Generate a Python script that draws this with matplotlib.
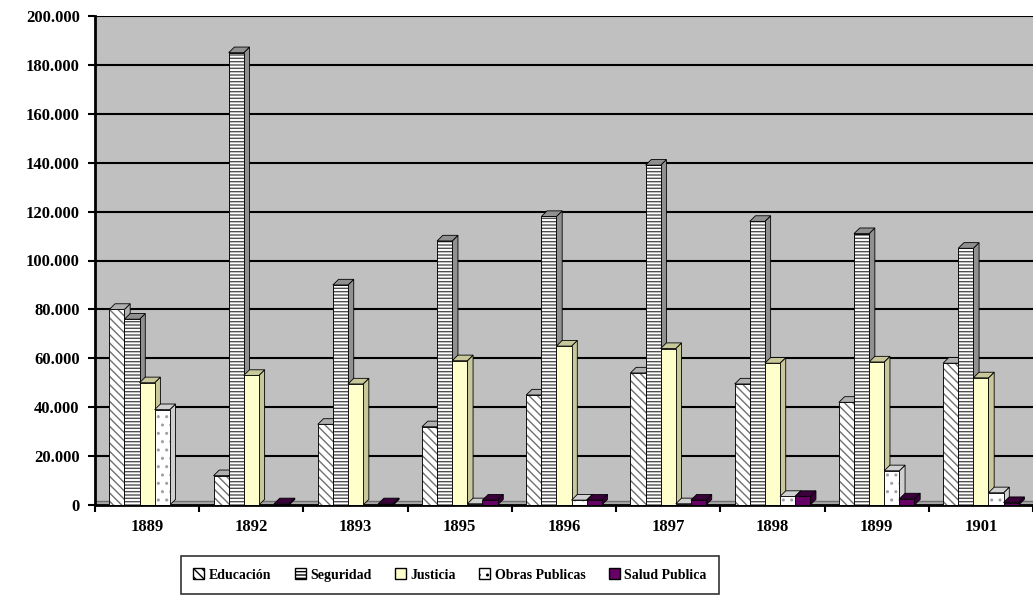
import matplotlib
matplotlib.use("Agg")
import matplotlib.pyplot as plt
from matplotlib.patches import Polygon, Patch
from matplotlib.ticker import FuncFormatter, FixedLocator
import numpy as np

years = ["1889", "1892", "1893", "1895", "1896", "1897", "1898", "1899", "1901"]
series_names = ["Educación", "Seguridad", "Justicia", "Obras Publicas", "Salud Publica"]
educacion = [80000, 12000, 33000, 32000, 45000, 54000, 49500, 42000, 58000]
seguridad = [76000, 185000, 90000, 108000, 118000, 139000, 116000, 111000, 105000]
justicia = [50000, 53000, 49500, 59000, 65000, 64000, 58000, 58500, 52000]
obras = [39000, 0, 0, 500, 2000, 500, 3500, 14000, 5000]
salud = [0, 500, 500, 2000, 2000, 2000, 3500, 2500, 1000]

series = [educacion, seguridad, justicia, obras, salud]
faces = ["white", "white", "#FFFFCC", "white", "#660066"]
hatches = ["\\\\\\\\", "-----", None, "..", None]
hatchcolors = ["#707070", "#505050", None, "#A0A0A0", None]
sides = ["#B0B0B0", "#909090", "#C8C89A", "#D0D0D0", "#3A003A"]

plt.rcParams["font.family"] = ["Liberation Serif", "DejaVu Serif"]
plt.rcParams["hatch.linewidth"] = 1.0

fig = plt.figure(figsize=(10.33, 6.12), dpi=100)
ax = fig.add_axes([95 / 1033, 1 - 505 / 612, (1033 - 95) / 1033, (505 - 16) / 612])
ax.set_facecolor("#C0C0C0")
ax.set_xlim(-0.5, len(years) - 0.5)
ax.set_ylim(0, 200000)

w = 0.145
dx = 0.055
dy = 2300
# floor strip of the 3D chart
ax.axhspan(0, dy * 0.8, color="#A8A8A8", zorder=2, linewidth=0)
ax.axhline(dy * 0.8, color="#707070", linewidth=1.0, zorder=2)

x = np.arange(len(years))
for k, (vals, fc, h, hc, sc) in enumerate(zip(series, faces, hatches, hatchcolors, sides)):
    pos = x - 2.5 * w + w * k + w / 2
    for xi, v in zip(pos, vals):
        if v <= 0:
            continue
        left, right = xi - w / 2, xi + w / 2
        ax.add_patch(Polygon([[right, 0], [right + dx, dy], [right + dx, v + dy], [right, v]],
                             closed=True, facecolor=sc, edgecolor="black", linewidth=0.6, zorder=3 + k))
        ax.add_patch(Polygon([[left, v], [left + dx, v + dy], [right + dx, v + dy], [right, v]],
                             closed=True, facecolor=sc, edgecolor="black", linewidth=0.6, zorder=3 + k))
    bars = ax.bar(pos, vals, width=w, color=fc, edgecolor="black", linewidth=0.6, zorder=3 + k)
    if h:
        for b in bars:
            b.set_hatch(h)
            b.set_edgecolor(hc)
        ax.bar(pos, vals, width=w, color="none", edgecolor="black", linewidth=0.6, zorder=3.5 + k)

ax.yaxis.set_major_locator(FixedLocator(np.arange(0, 200001, 20000)))
ax.yaxis.set_major_formatter(FuncFormatter(lambda v, p: f"{int(v):,}".replace(",", ".")))
ax.grid(axis="y", color="black", linewidth=1.5, zorder=1)
ax.set_axisbelow(True)
ax.set_xticks(x)
ax.set_xticklabels(years)
ax.set_xticks(np.arange(-0.5, len(years)), minor=True)
ax.tick_params(axis="x", which="major", length=0, pad=10, labelsize=12)
ax.tick_params(axis="x", which="minor", length=5, width=1.5, direction="out")
ax.tick_params(axis="y", length=5, width=1.5, direction="out", labelsize=12, pad=6)
for lab in ax.get_xticklabels() + ax.get_yticklabels():
    lab.set_fontweight("bold")
for s in ["top", "right"]:
    ax.spines[s].set_visible(False)
ax.spines["left"].set_linewidth(2)
ax.spines["bottom"].set_linewidth(2)

handles = []
for name, fc, h, hc in zip(series_names, faces, hatches, hatchcolors):
    handles.append(Patch(facecolor=fc, edgecolor="black", hatch=h, label=name))
leg = fig.legend(handles=handles, loc="center", bbox_to_anchor=(450 / 1033, 1 - 575 / 612), ncol=5,
                 frameon=True, fancybox=False, edgecolor="black", prop={"weight": "bold", "size": 10},
                 handlelength=0.8, handleheight=0.8, handletextpad=0.3, columnspacing=1.7,
                 borderpad=0.9)
leg.get_frame().set_linewidth(1.2)

fig.savefig("out.png", dpi=100)
